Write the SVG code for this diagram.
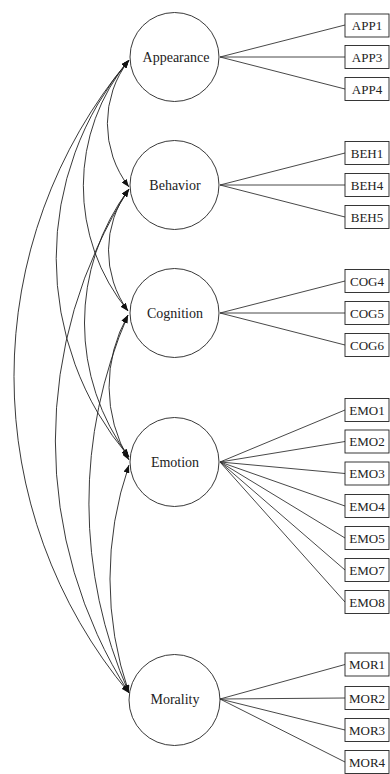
<svg xmlns="http://www.w3.org/2000/svg" width="390" height="774" viewBox="0 0 390 774">
<defs>
<marker id="ah" markerUnits="userSpaceOnUse" markerWidth="8" markerHeight="6" refX="8" refY="3" orient="auto-start-reverse">
<path d="M0,0 L8,3 L0,6 z" fill="#111"/>
</marker>
<style>
.lat{fill:#fff;stroke:#222;stroke-width:0.9}
.box{fill:#fff;stroke:#222;stroke-width:0.9}
.ln{stroke:#333;stroke-width:0.9;fill:none}
.cov{stroke:#222;stroke-width:0.9;fill:none;marker-start:url(#ah);marker-end:url(#ah)}
.lt{font-family:"Liberation Serif",serif;font-size:14px;fill:#222;text-anchor:middle;dominant-baseline:central}
.bt{font-family:"Liberation Serif",serif;font-size:13px;fill:#222;text-anchor:middle;dominant-baseline:central}
</style>
</defs>
<rect width="390" height="774" fill="#fff"/>
<g id="connectors">
<path class="ln" d="M220,57 L345,25 M220,57 L345,57 M220,57 L345,89"/>
<path class="ln" d="M220,185 L345,153 M220,185 L345,185 M220,185 L345,217"/>
<path class="ln" d="M220,313 L345,281 M220,313 L345,313 M220,313 L345,345"/>
<path class="ln" d="M220,462 L345,410 M220,462 L345,441.5 M220,462 L345,473.5 M220,462 L345,506 M220,462 L345,538 M220,462 L345,570 M220,462 L345,602"/>
<path class="ln" d="M220,699 L345,664.5 M220,699 L345,698 M220,699 L345,730 M220,699 L345,762"/>
<path class="cov" d="M129,60 A493,493 0 0 0 129,693"/>
<path class="cov" d="M129,60 A307,307 0 0 0 129,457"/>
<path class="cov" d="M129,60 A197,197 0 0 0 128,311"/>
<path class="cov" d="M129,60 A104,104 0 0 0 129,187"/>
<path class="cov" d="M129,189 A103,103 0 0 0 128,311"/>
<path class="cov" d="M129,189 A224,224 0 0 0 129,457"/>
<path class="cov" d="M129,189 A468,468 0 0 0 129,693"/>
<path class="cov" d="M128,315 A145,145 0 0 0 129,460"/>
<path class="cov" d="M128,315 A471,471 0 0 0 129,693"/>
<path class="cov" d="M129,465 A351,351 0 0 0 129,693"/>
</g>
<g id="Appearance"><circle class="lat" cx="174.5" cy="57" r="44.5"/><text class="lt" x="176" y="57">Appearance</text></g>
<g id="Behavior"><circle class="lat" cx="174.5" cy="185" r="44.5"/><text class="lt" x="175" y="185">Behavior</text></g>
<g id="Cognition"><circle class="lat" cx="174.5" cy="313" r="44.5"/><text class="lt" x="175" y="313">Cognition</text></g>
<g id="Emotion"><circle class="lat" cx="174.5" cy="462" r="44.5"/><text class="lt" x="175" y="462">Emotion</text></g>
<g id="Morality"><circle class="lat" cx="174.5" cy="700" r="45.5"/><text class="lt" x="175" y="699">Morality</text></g>
<g id="APP1"><rect class="box" x="345" y="14" width="44" height="23"/><text class="bt" x="367" y="25.5">APP1</text></g>
<g id="APP3"><rect class="box" x="345" y="45.5" width="44" height="23"/><text class="bt" x="367" y="57">APP3</text></g>
<g id="APP4"><rect class="box" x="345" y="77.5" width="44" height="23"/><text class="bt" x="367" y="89">APP4</text></g>
<g id="BEH1"><rect class="box" x="345" y="141.5" width="44" height="23"/><text class="bt" x="367" y="153">BEH1</text></g>
<g id="BEH4"><rect class="box" x="345" y="173.5" width="44" height="23"/><text class="bt" x="367" y="185">BEH4</text></g>
<g id="BEH5"><rect class="box" x="345" y="205.5" width="44" height="23"/><text class="bt" x="367" y="217">BEH5</text></g>
<g id="COG4"><rect class="box" x="345" y="269.5" width="44" height="23"/><text class="bt" x="367" y="281">COG4</text></g>
<g id="COG5"><rect class="box" x="345" y="301.5" width="44" height="23"/><text class="bt" x="367" y="313">COG5</text></g>
<g id="COG6"><rect class="box" x="345" y="333.5" width="44" height="23"/><text class="bt" x="367" y="345">COG6</text></g>
<g id="EMO1"><rect class="box" x="345" y="398.5" width="44" height="23"/><text class="bt" x="367" y="410">EMO1</text></g>
<g id="EMO2"><rect class="box" x="345" y="430" width="44" height="23"/><text class="bt" x="367" y="441.5">EMO2</text></g>
<g id="EMO3"><rect class="box" x="345" y="462" width="44" height="23"/><text class="bt" x="367" y="473.5">EMO3</text></g>
<g id="EMO4"><rect class="box" x="345" y="494.5" width="44" height="23"/><text class="bt" x="367" y="506">EMO4</text></g>
<g id="EMO5"><rect class="box" x="345" y="526.5" width="44" height="23"/><text class="bt" x="367" y="538">EMO5</text></g>
<g id="EMO7"><rect class="box" x="345" y="558.5" width="44" height="23"/><text class="bt" x="367" y="570">EMO7</text></g>
<g id="EMO8"><rect class="box" x="345" y="590.5" width="44" height="23"/><text class="bt" x="367" y="602">EMO8</text></g>
<g id="MOR1"><rect class="box" x="345" y="653" width="44" height="23"/><text class="bt" x="367" y="664.5">MOR1</text></g>
<g id="MOR2"><rect class="box" x="345" y="686.5" width="44" height="23"/><text class="bt" x="367" y="698">MOR2</text></g>
<g id="MOR3"><rect class="box" x="345" y="718.5" width="44" height="23"/><text class="bt" x="367" y="730">MOR3</text></g>
<g id="MOR4"><rect class="box" x="345" y="750.5" width="44" height="23"/><text class="bt" x="367" y="762">MOR4</text></g>
</svg>
